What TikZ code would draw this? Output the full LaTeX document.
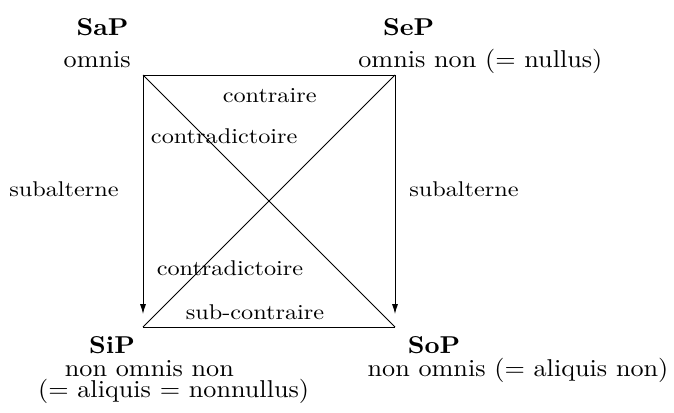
\documentclass[tikz,border=0pt]{standalone}
\usetikzlibrary{arrows.meta}
\begin{document}
\begin{tikzpicture}[x=0.4925pt,y=-0.4925pt,
  lbl/.style={anchor=base,inner sep=0pt,font=\fontsize{10}{12}\selectfont},
  ttl/.style={lbl,font=\fontsize{10}{12}\selectfont\bfseries},
  rel/.style={lbl},
  edge/.style={line width=0.45pt},
  arr/.style={edge,-{Latex[length=4.9pt,width=3pt]}}]
\newcommand{\relwide}[1]{\scalebox{1.195}[1.05]{#1}}
\newcommand{\mainbig}[1]{\scalebox{1.29}[1.2]{#1}}
\useasboundingbox (0,0) rectangle (674,412);
% corners
\coordinate (A) at (143,75);
\coordinate (E) at (395,75);
\coordinate (I) at (143,327);
\coordinate (O) at (395,327);
\coordinate (Ia) at (143,314);
\coordinate (Oa) at (395,314);
% edges
\draw[edge] (A) -- (E);
\draw[edge] (I) -- (O);
\draw[edge] (A) -- (O);
\draw[edge] (E) -- (I);
\draw[arr] (A) -- (Ia);
\draw[arr] (E) -- (Oa);
% titles
\node[ttl] (sap) at (102.6,35) {\mainbig{SaP}};
\node[lbl] (sapt) at (97.2,67.5) {\mainbig{omnis}};
\node[ttl] (sep) at (408.6,35) {\mainbig{SeP}};
\node[lbl] (sept) at (480.4,67.5) {\mainbig{omnis non ($=$ nullus)}};
\node[ttl] (sip) at (112,353.5) {\mainbig{SiP}};
\node[lbl] (sipt) at (149.4,376) {\mainbig{non omnis non}};
\node[lbl] (sipu) at (173.6,397) {\mainbig{($=$ aliquis $=$ nonnullus)}};
\node[ttl] (sop) at (434,353.5) {\mainbig{SoP}};
\node[lbl] (sopt) at (518,376) {\mainbig{non omnis ($=$ aliquis non)}};
% relation labels
\node[rel] (ctr) at (269.7,102.7) {\relwide{contraire}};
\node[rel] (cd1) at (224.2,143.3) {\relwide{contradictoire}};
\node[rel] (sb1) at (64,196.5) {\relwide{subalterne}};
\node[rel] (sb2) at (464,196.5) {\relwide{subalterne}};
\node[rel] (cd2) at (230,275.7) {\relwide{contradictoire}};
\node[rel] (sct) at (255,319.3) {\relwide{sub-contraire}};
\end{tikzpicture}
\end{document}
